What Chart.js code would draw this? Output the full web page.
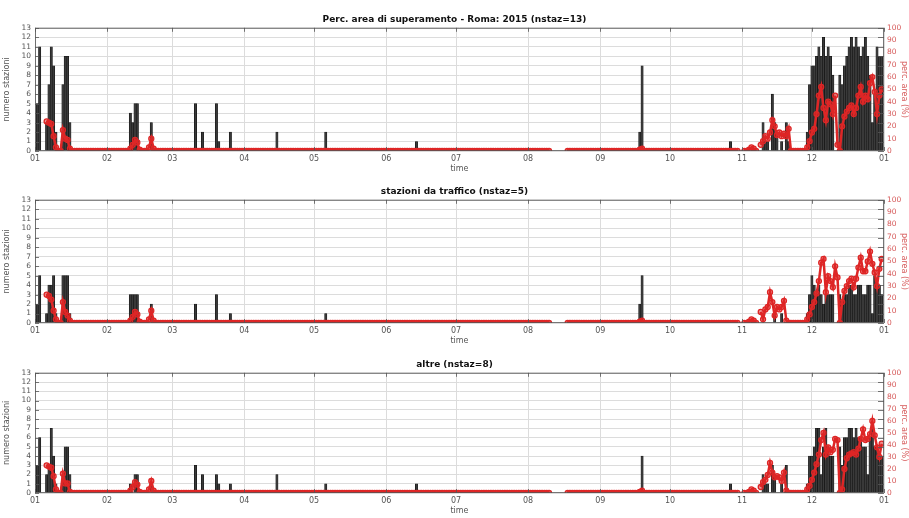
<!DOCTYPE html>
<html><head><meta charset="utf-8">
<script src="https://cdn.jsdelivr.net/npm/chart.js@4"></script>
<style>
html,body{margin:0;padding:0;background:#fff;width:909px;height:518px;overflow:hidden;}
canvas{position:absolute;left:0;}
</style></head><body>
<canvas id="c1" width="909" height="176" style="top:0px"></canvas>
<canvas id="c2" width="909" height="176" style="top:172px"></canvas>
<canvas id="c3" width="909" height="173" style="top:345px"></canvas>
<script>
// ---- axis / categories ----
const monthStarts = [0,31,59,90,120,151,181,212,243,273,304,334,365];
const monthLabels = ['01','02','03','04','05','06','07','08','09','10','11','12','01'];
const panelTitles = ['Perc. area di superamento - Roma: 2015 (nstaz=13)','stazioni da traffico (nstaz=5)','altre (nstaz=8)'];
const missingDays = [0,1,2,3,4,222,223,224,225,226,227,228,303,304,311];

// ---- panel 1: all stations ----
const barDays1 = [1,2,5,6,7,8,9,12,13,14,15,41,42,43,44,50,69,72,78,79,84,104,125,164,260,261,299,
  313,314,315,317,318,319,321,323,324,332,333,334,335,336,337,338,339,340,341,342,343,346,347,348,349,350,351,352,353,354,355,356,357,358,359,360,361,362,363,364];
const barVals1 = [5,11,3,7,11,9,2,7,10,10,3,4,3,5,5,3,5,2,5,1,2,2,2,1,2,9,1,
  3,1,1,6,3,2,1,3,1,2,7,9,9,10,11,10,12,10,11,10,8,8,7,9,10,11,12,11,12,11,10,11,12,10,8,3,6,11,10,10];
const pctDays1 = [5,6,7,8,9,12,13,14,15,41,42,43,44,45,49,50,51,260,261,307,308,309,
  312,313,314,315,316,317,318,319,320,321,322,323,324,332,333,334,335,336,337,338,339,340,341,342,343,344,345,347,348,349,350,351,352,353,354,355,356,357,358,359,360,361,362,363,364];
const pctVals1 = [24,23,22,12,3,17,10,9,2,2,5,9,7,1,3,10,2,1,2,1,3,2,
  5,8,12,10,15,25,20,13,15,12,14,12,18,3,8,15,18,30,45,52,35,25,40,38,30,45,5,20,28,32,35,37,30,35,45,52,40,45,42,55,60,48,30,45,50];

// ---- panel 2: traffic stations ----
const barDays2 = [1,2,5,6,7,8,9,12,13,14,15,41,42,43,44,50,69,78,84,125,260,261,
  318,321,332,333,334,335,336,337,338,339,340,341,342,343,346,347,348,349,350,351,352,353,354,355,356,357,358,359,360,361,362,363,364];
const barVals2 = [2,5,1,4,4,5,1,5,5,5,1,3,3,3,3,2,2,3,1,1,2,5,
  1,1,1,3,5,4,3,4,3,2,3,3,3,3,3,2,3,3,4,4,3,3,4,4,3,3,4,4,1,5,4,4,3];
const pctDays2 = [5,6,7,8,9,12,13,14,15,41,42,43,44,45,49,50,51,260,261,307,308,309,
  312,313,314,315,316,317,318,319,320,321,322,323,324,332,333,334,335,336,337,338,339,340,341,342,343,344,345,347,348,349,350,351,352,353,354,355,356,357,358,359,360,361,362,363,364];
const pctVals2 = [23,22,19,10,3,17,9,6,2,2,5,9,7,1,3,10,2,1,2,1,3,2,
  9,3,11,13,25,17,6,13,11,13,18,2,0,3,7,13,17,24,34,49,52,25,38,34,29,46,37,17,26,30,34,36,29,36,45,53,42,42,50,58,48,41,30,44,52];

// ---- panel 3: other stations ----
const barDays3 = [1,2,5,6,7,8,9,12,13,14,15,41,43,44,50,69,72,78,79,84,104,125,164,261,299,
  313,314,315,317,318,321,323,332,333,334,335,336,337,338,339,340,341,342,343,346,347,348,349,350,351,352,353,354,355,356,357,358,359,360,361,362,363,364];
const barVals3 = [3,6,2,3,7,4,1,2,5,5,2,1,2,2,1,3,2,2,1,1,2,1,1,4,1,
  2,1,1,3,2,1,3,1,4,4,5,7,7,2,5,7,5,4,4,5,3,6,6,7,7,6,7,6,6,5,5,2,6,7,5,5,4,4];
const pctDays3 = [5,6,7,8,9,12,13,14,15,41,42,43,44,45,49,50,51,260,261,307,308,309,
  312,313,314,315,316,317,318,319,320,321,322,323,324,332,333,334,335,336,337,338,339,340,341,342,343,344,345,347,348,349,350,351,352,353,354,355,356,357,358,359,360,361,362,363,364];
const pctVals3 = [23,22,21,14,3,16,8,8,1,2,5,9,7,1,3,10,2,1,2,1,3,2,
  5,9,11,15,25,17,13,14,13,10,17,2,0,3,6,11,17,24,32,44,50,32,38,34,36,45,44,3,20,29,32,33,34,32,37,45,53,44,45,49,60,48,38,30,41,50,45];

// ---- build series ----
function barSeries(days, vals){ return days.map((d,i)=>({x:d, y:vals[i]})); }
function pctSeries(days, vals){
  const m = new Map(days.map((d,i)=>[d, vals[i]]));
  const out = [];
  for(let d=0; d<365; d++){
    out.push({x:d, y: missingDays.includes(d) ? null : (m.has(d) ? m.get(d) : 0)});
  }
  return out;
}

const RED = 'rgb(222,38,38)';
const FONT = 'DejaVu Sans';

const framePlugin = {
  id:'frame',
  afterDatasetsDraw(chart){
    const {ctx, chartArea:a} = chart;
    ctx.save();
    ctx.strokeStyle = '#555';
    ctx.lineWidth = 0.8;
    ctx.strokeRect(a.left+0.5, a.top+0.5, a.right-a.left-1, a.bottom-a.top-1);
    const xs = chart.scales.x, ys = chart.scales.y;
    ctx.beginPath();
    for(const v of monthStarts){
      const px = Math.round(xs.getPixelForValue(v))+0.5;
      ctx.moveTo(px, a.top); ctx.lineTo(px, a.top+4);
      ctx.moveTo(px, a.bottom); ctx.lineTo(px, a.bottom-4);
    }
    for(let v=0; v<=13; v++){
      const py = Math.round(ys.getPixelForValue(v))+0.5;
      ctx.moveTo(a.left, py); ctx.lineTo(a.left+4, py);
      ctx.moveTo(a.right, py); ctx.lineTo(a.right-6, py);
    }
    ctx.stroke();
    ctx.restore();
  }
};

function makeChart(id, title, bDays, bVals, pDays, pVals){
  new Chart(document.getElementById(id), {
    type:'bar',
    data:{
      datasets:[
        {type:'line', data:pctSeries(pDays,pVals), yAxisID:'y2', order:0,
         borderColor:RED, borderWidth:2.5, backgroundColor:'rgba(222,38,38,0.5)',
         pointRadius:2.5, pointBorderWidth:1.3, pointBorderColor:RED, spanGaps:false, tension:0},
        {type:'bar', data:barSeries(bDays,bVals), yAxisID:'y', order:1,
         backgroundColor:'#3a3a3a', borderColor:'#111', borderWidth:0.6,
         barPercentage:1, categoryPercentage:1}
      ]
    },
    options:{
      responsive:false, animation:false,
      layout:{padding:0},
      plugins:{
        legend:{display:false}, tooltip:{enabled:false},
        title:{display:true, text:title, color:'#111',
               font:{family:FONT, size:9, weight:'bold'}, padding:{top:14,bottom:3}}
      },
      scales:{
        x:{type:'linear', min:0, max:365, offset:false,
           afterBuildTicks:(s)=>{ s.ticks = monthStarts.map(v=>({value:v})); },
           afterFit:(s)=>{ s.height = 25; },
           ticks:{autoSkip:false, maxRotation:0, padding:3, color:'#555',
                  font:{family:FONT, size:8},
                  callback:(v)=>monthLabels[monthStarts.indexOf(v)]},
           grid:{color:'#dcdcdc', drawTicks:false, offset:false},
           border:{display:false},
           title:{display:true, text:'time', color:'#555', font:{family:FONT, size:8}, padding:{top:0,bottom:2}}},
        y:{position:'left', min:0, max:13,
           afterFit:(s)=>{ s.width = 35; },
           ticks:{stepSize:1, autoSkip:false, padding:4, color:'#555', font:{family:FONT, size:7.5}},
           grid:{color:'#dcdcdc', drawTicks:false},
           border:{display:false},
           title:{display:true, text:'numero stazioni', color:'#555', font:{family:FONT, size:8}, padding:{top:2,bottom:2}}},
        y2:{position:'right', min:0, max:100,
           afterFit:(s)=>{ s.width = 25; },
           ticks:{stepSize:10, autoSkip:false, padding:3, color:'rgb(214,90,90)', font:{family:FONT, size:7.5}},
           grid:{display:false, drawTicks:false},
           border:{display:false},
           title:{display:true, text:'perc. area (%)', color:'rgb(214,90,90)', font:{family:FONT, size:8}, padding:{top:0,bottom:0}}}
      }
    },
    plugins:[framePlugin]
  });
}

makeChart('c1', panelTitles[0], barDays1, barVals1, pctDays1, pctVals1);
makeChart('c2', panelTitles[1], barDays2, barVals2, pctDays2, pctVals2);
makeChart('c3', panelTitles[2], barDays3, barVals3, pctDays3, pctVals3);
</script>
</body></html>
